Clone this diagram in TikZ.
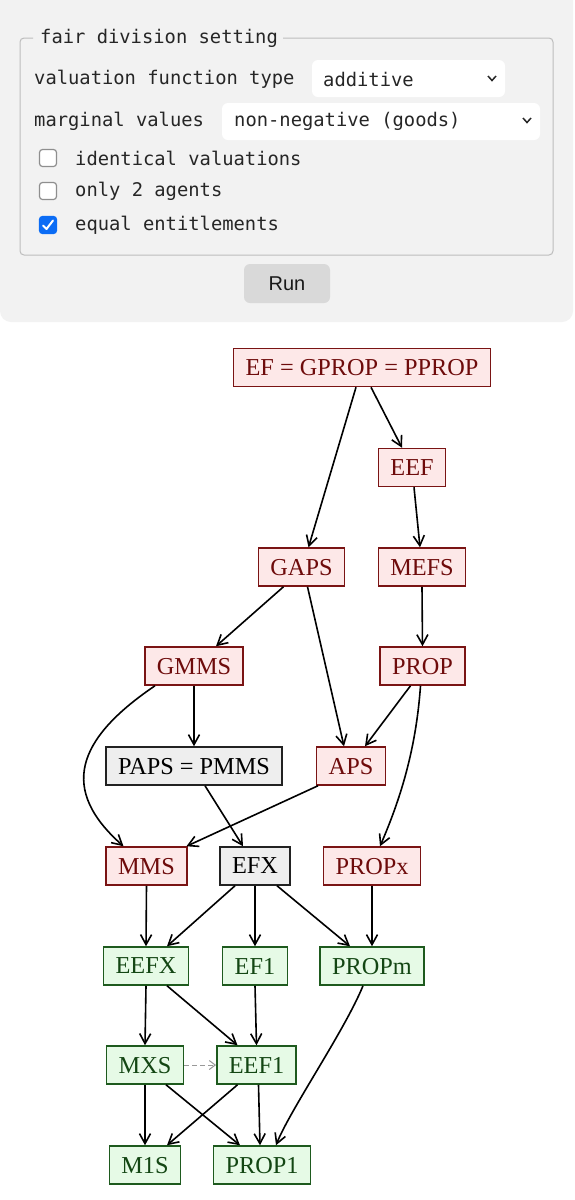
\documentclass[tikz,border=0pt]{standalone}
\usepackage{fontspec}
\setmainfont{Liberation Serif}
\newfontfamily\uimono{DejaVu Sans Mono}
\newfontfamily\uisans{Liberation Sans}
\usetikzlibrary{arrows.meta}
\definecolor{panelbg}{HTML}{F2F2F2}
\definecolor{fsborder}{HTML}{BDBDBD}
\definecolor{cbborder}{HTML}{8E8E8E}
\definecolor{cbblue}{HTML}{0B6CF5}
\definecolor{runbg}{HTML}{D9D9D9}
\definecolor{redfill}{HTML}{FDE8E8}
\definecolor{redline}{HTML}{7A1414}
\definecolor{redtext}{HTML}{6E0B0B}
\definecolor{grayfill}{HTML}{EEEEEE}
\definecolor{grayline}{HTML}{222222}
\definecolor{greenfill}{HTML}{E6FAE6}
\definecolor{greenline}{HTML}{1E5A1E}
\definecolor{greentext}{HTML}{134613}
\definecolor{dashgray}{HTML}{999999}
\tikzset{
  box/.style={draw, line width=1.5pt, inner xsep=12pt, inner ysep=0pt,
    minimum height=38pt, font=\fontsize{24.3}{27}\selectfont, text depth=0pt},
  redbox/.style={box, fill=redfill, draw=redline, text=redtext},
  graybox/.style={box, fill=grayfill, draw=grayline, text=black},
  greenbox/.style={box, fill=greenfill, draw=greenline, text=greentext},
  edge/.style={line width=1.6pt, -{Straight Barb[length=10pt,width=11pt]}},
  dashedge/.style={line width=1pt, draw=dashgray, dash pattern=on 5pt off 3pt,
    -{Straight Barb[length=6pt,width=9pt]}},
  uitext/.style={anchor=west, inner sep=0pt, font=\uimono\fontsize{18.8}{22}\selectfont, text=black!85},
  cbox/.style={draw=cbborder, fill=white, line width=1.2pt, rounded corners=3pt,
    minimum width=17pt, minimum height=17pt, inner sep=0pt},
}
\begin{document}
\begin{tikzpicture}[x=1pt, y=-1pt]
\useasboundingbox (0,0) rectangle (574,1200);
\fill[white] (0,0) rectangle (574,1200);
% panel
\fill[panelbg, rounded corners=11pt] (0,-15) rectangle (573,322);
% fieldset
\draw[fsborder, line width=1pt, rounded corners=4pt] (33,38) -- (20,38) -- (20,255) -- (553,255) -- (553,38) -- (283,38);
\node[uitext] (legend) at (40,38) {fair division setting};
% row 1
\node[uitext] (vft) at (34,79) {valuation function type};
\fill[white, rounded corners=6pt] (312,60) rectangle (505,97);
\node[uitext] (sel1) at (323,79) {additive};
\draw[line width=1.5pt, black!85] (488,76) -- (492,80.5) -- (496,76);
% row 2
\node[uitext] (mv) at (34,121) {marginal values};
\fill[white, rounded corners=6pt] (222,103) rectangle (540,140);
\node[uitext] (sel2) at (234,121) {non-negative (goods)};
\draw[line width=1.5pt, black!85] (523,118) -- (527,122.5) -- (531,118);
% checkboxes
\node[cbox] (cb1) at (48,158) {};
\node[uitext] (l1) at (75,158) {identical valuations};
\node[cbox] (cb2) at (48,191) {};
\node[uitext] (l2) at (75,191) {only 2 agents};
\node[cbox, fill=cbblue, draw=cbblue] (cb3) at (48,225) {};
\draw[white, line width=2pt, line cap=round, line join=round] (43,225.5) -- (46.5,229) -- (53,220.5);
\node[uitext] (l3) at (75,225) {equal entitlements};
% run button
\node[fill=runbg, rounded corners=6pt, minimum width=86pt, minimum height=39pt, inner sep=0pt,
  font=\uisans\fontsize{20}{24}\selectfont, text=black!90] (run) at (287,283.5) {Run};

% graph nodes
\node[redbox] (EF) at (362,367.5) {EF = GPROP = PPROP};
\node[redbox] (EEF) at (412,467.5) {EEF};
\node[redbox] (GAPS) at (301.5,567) {GAPS};
\node[redbox] (MEFS) at (422,567) {MEFS};
\node[redbox] (GMMS) at (194,666) {GMMS};
\node[redbox] (PROP) at (422.5,666) {PROP};
\node[graybox] (PAPS) at (194,766) {PAPS = PMMS};
\node[redbox] (APS) at (351,766) {APS};
\node[redbox] (MMS) at (146.5,866) {MMS};
\node[graybox] (EFX) at (255,866) {EFX};
\node[redbox] (PROPx) at (372,866) {PROPx};
\node[greenbox] (EEFX) at (146,966) {EEFX};
\node[greenbox] (EF1) at (255,966) {EF1};
\node[greenbox] (PROPm) at (372,966) {PROPm};
\node[greenbox] (MXS) at (145,1065) {MXS};
\node[greenbox] (EEF1) at (256.5,1065) {EEF1};
\node[greenbox] (M1S) at (145,1165) {M1S};
\node[greenbox] (PROP1) at (262,1165) {PROP1};

% edges
\draw[edge] ([xshift=-6pt]EF.south) -- ([xshift=7pt]GAPS.north);
\draw[edge] ([xshift=9pt]EF.south) -- ([xshift=-10pt]EEF.north);
\draw[edge] ([xshift=2pt]EEF.south) -- ([xshift=-2pt]MEFS.north);
\draw[edge] ([xshift=-18pt]GAPS.south) -- ([xshift=22pt]GMMS.north);
\draw[edge] ([xshift=6pt]GAPS.south) -- ([xshift=-7pt]APS.north);
\draw[edge] (MEFS.south) -- (PROP.north);
\draw[edge] (GMMS.south) -- (PAPS.north);
\draw[edge] ([xshift=-39pt]GMMS.south) .. controls (75,740) and (60,790) .. ([xshift=-23pt]MMS.north);
\draw[edge] ([xshift=-12pt]PROP.south) -- ([xshift=14pt]APS.north);
\draw[edge] ([xshift=-2pt]PROP.south) .. controls (416,750) and (400,800) .. ([xshift=8pt]PROPx.north);
\draw[edge] ([xshift=11pt]PAPS.south) -- ([xshift=-12pt]EFX.north);
\draw[edge] ([xshift=-33pt]APS.south) -- ([xshift=40pt]MMS.north);
\draw[edge] (MMS.south) -- (EEFX.north);
\draw[edge] ([xshift=-20pt]EFX.south) -- ([xshift=21pt]EEFX.north);
\draw[edge] (EFX.south) -- (EF1.north);
\draw[edge] ([xshift=22pt]EFX.south) -- ([xshift=-22pt]PROPm.north);
\draw[edge] (PROPx.south) -- (PROPm.north);
\draw[edge] (EEFX.south) -- (MXS.north);
\draw[edge] ([xshift=21pt]EEFX.south) -- ([xshift=-19pt]EEF1.north);
\draw[edge] (EF1.south) -- (EEF1.north);
\draw[edge] ([xshift=-9pt]PROPm.south) .. controls (345,1030) and (290,1110) .. ([xshift=14pt]PROP1.north);
\draw[dashedge] (MXS.east) -- (EEF1.west);
\draw[edge] (MXS.south) -- (M1S.north);
\draw[edge] ([xshift=21pt]MXS.south) -- ([xshift=-22pt]PROP1.north);
\draw[edge] ([xshift=-19pt]EEF1.south) -- ([xshift=22pt]M1S.north);
\draw[edge] ([xshift=2pt]EEF1.south) -- ([xshift=-2pt]PROP1.north);
\end{tikzpicture}
\end{document}
